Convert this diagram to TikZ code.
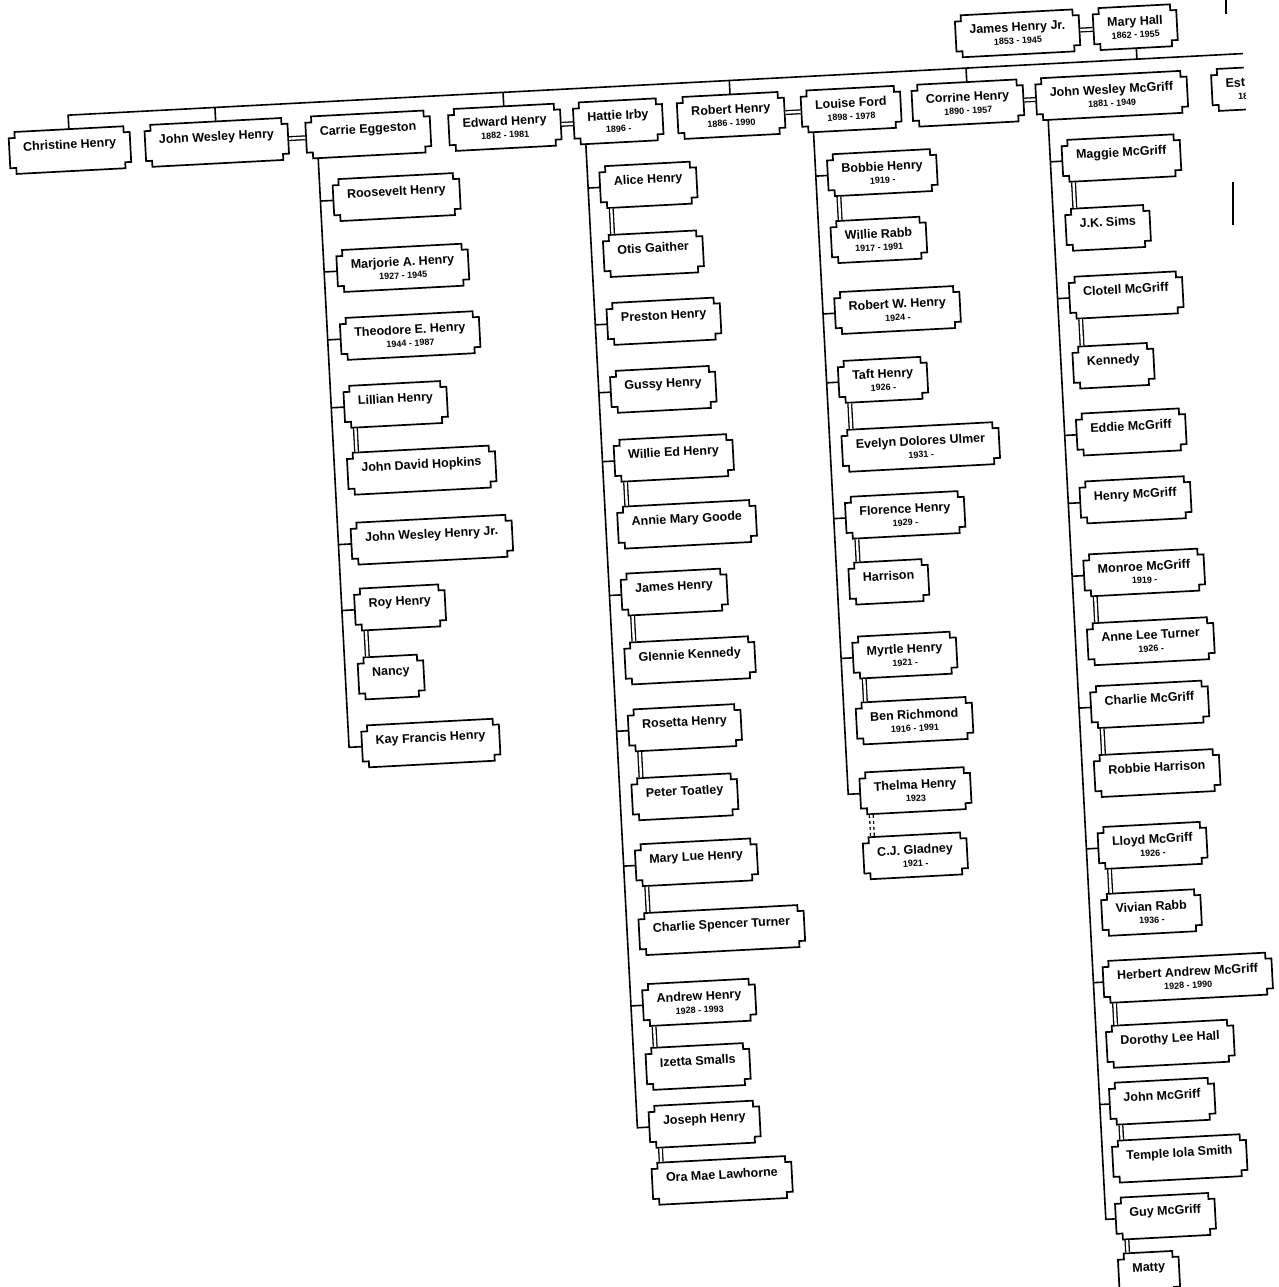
\documentclass[tikz,border=0pt]{standalone}
\usepackage{fontspec}
\setmainfont{Liberation Sans}
\usetikzlibrary{calc}

\makeatletter
\newdimen\nbl \newdimen\nbll \newdimen\nbrr \newdimen\nbr
\newdimen\nbb \newdimen\nbbb \newdimen\nbtt \newdimen\nbt
% rectangle with a small square notch cut into each corner
\pgfdeclareshape{notchbox}{%
  \inheritsavedanchors[from=rectangle]%
  \inheritanchorborder[from=rectangle]%
  \inheritanchor[from=rectangle]{center}%
  \inheritanchor[from=rectangle]{north}%
  \inheritanchor[from=rectangle]{south}%
  \inheritanchor[from=rectangle]{east}%
  \inheritanchor[from=rectangle]{west}%
  \inheritanchor[from=rectangle]{north east}%
  \inheritanchor[from=rectangle]{north west}%
  \inheritanchor[from=rectangle]{south east}%
  \inheritanchor[from=rectangle]{south west}%
  \backgroundpath{%
    \southwest \nbl=\pgf@x \nbb=\pgf@y
    \northeast \nbr=\pgf@x \nbt=\pgf@y
    \nbll=\nbl \advance\nbll by 6pt
    \nbrr=\nbr \advance\nbrr by -6pt
    \nbbb=\nbb \advance\nbbb by 6pt
    \nbtt=\nbt \advance\nbtt by -6pt
    \pgfpathmoveto{\pgfqpoint{\nbl}{\nbtt}}%
    \pgfpathlineto{\pgfqpoint{\nbll}{\nbtt}}%
    \pgfpathlineto{\pgfqpoint{\nbll}{\nbt}}%
    \pgfpathlineto{\pgfqpoint{\nbrr}{\nbt}}%
    \pgfpathlineto{\pgfqpoint{\nbrr}{\nbtt}}%
    \pgfpathlineto{\pgfqpoint{\nbr}{\nbtt}}%
    \pgfpathlineto{\pgfqpoint{\nbr}{\nbbb}}%
    \pgfpathlineto{\pgfqpoint{\nbrr}{\nbbb}}%
    \pgfpathlineto{\pgfqpoint{\nbrr}{\nbb}}%
    \pgfpathlineto{\pgfqpoint{\nbll}{\nbb}}%
    \pgfpathlineto{\pgfqpoint{\nbll}{\nbbb}}%
    \pgfpathlineto{\pgfqpoint{\nbl}{\nbbb}}%
    \pgfpathclose
  }%
}
\makeatother

\newcommand{\lifespan}[1]{\\{\fontsize{9}{9}\selectfont #1}}

\tikzset{
  card/.style={notchbox, draw, line width=1.7pt, outer sep=0pt, anchor=west,
    inner xsep=14pt, minimum height=42pt, align=center,
    font=\fontsize{12.5}{12.5}\selectfont\bfseries},
  person/.style={card, text depth=12pt},
  dated/.style={card},
  link/.style={line width=1.6pt},
  wed/.style={double, double distance=2.4pt, line width=1.3pt, shorten <=0.8pt, shorten >=0.8pt}
}

\begin{document}
\begin{tikzpicture}[x=1pt, y=-1pt]
\path[fill=white, use as bounding box] (0,0) rectangle (1278,1287);
\begin{scope}[transform canvas={rotate around={3:(639,643)}}]
\clip (-60,-60) rectangle (1273,1400);

% first generation
\node[dated] (jhj) at (987,54) {James Henry Jr.\lifespan{1853 - 1945}};
\node[dated] (mh) at (1125,54) {Mary Hall\lifespan{1862 - 1955}};

% their children
\node[person] (chr) at (36,121) {Christine Henry};
\node[person] (jwh) at (172,121) {John Wesley Henry};
\node[person] (ce) at (333,121) {Carrie Eggeston};
\node[dated] (edh) at (476,121) {Edward Henry\lifespan{1882 - 1981}};
\node[dated] (hi) at (601,121) {Hattie Irby\lifespan{1896 -}};
\node[dated] (rh) at (705,121) {Robert Henry\lifespan{1886 - 1990}};
\node[dated] (lf) at (829,121) {Louise Ford\lifespan{1898 - 1978}};
\node[dated] (cor) at (940,121) {Corrine Henry\lifespan{1890 - 1957}};
\node[dated] (jwm) at (1064,121) {John Wesley McGriff\lifespan{1881 - 1949}};
\node[dated, text width=90pt, align=left] (est) at (1240,121) {Est\lifespan{\hspace*{12pt}18}};

% John Wesley Henry and Carrie Eggeston
\node[person] (rvh) at (357,185) {Roosevelt Henry};
\node[dated] (mah) at (357,256) {Marjorie A. Henry\lifespan{1927 - 1945}};
\node[dated] (teh) at (357,324) {Theodore E. Henry\lifespan{1944 - 1987}};
\node[person] (lih) at (357,392) {Lillian Henry};
\node[person] (jdh) at (357,459) {John David Hopkins};
\node[person] (jwj) at (357,529) {John Wesley Henry Jr.};
\node[person] (roh) at (357,595) {Roy Henry};
\node[person] (nan) at (357,664) {Nancy};
\node[person] (kfh) at (357,732) {Kay Francis Henry};

% Edward Henry and Hattie Irby
\node[person] (alh) at (624,186) {Alice Henry};
\node[person] (otg) at (624,255) {Otis Gaither};
\node[person] (prh) at (624,323) {Preston Henry};
\node[person] (guh) at (624,391) {Gussy Henry};
\node[person] (weh) at (624,460) {Willie Ed Henry};
\node[person] (amg) at (624,527) {Annie Mary Goode};
\node[person] (jah) at (624,594) {James Henry};
\node[person] (glk) at (624,663) {Glennie Kennedy};
\node[person] (rsh) at (624,730) {Rosetta Henry};
\node[person] (pet) at (624,799) {Peter Toatley};
\node[person] (mlh) at (624,865) {Mary Lue Henry};
\node[person] (cst) at (624,934) {Charlie Spencer Turner};
\node[dated] (anh) at (624,1005) {Andrew Henry\lifespan{1928 - 1993}};
\node[person] (izs) at (624,1069) {Izetta Smalls};
\node[person] (joh) at (624,1127) {Joseph Henry};
\node[person] (oml) at (624,1184) {Ora Mae Lawhorne};

% Robert Henry and Louise Ford
\node[dated] (boh) at (852,186) {Bobbie Henry\lifespan{1919 -}};
\node[dated] (wir) at (852,253) {Willie Rabb\lifespan{1917 - 1991}};
\node[dated] (rwh) at (852,324) {Robert W. Henry\lifespan{1924 -}};
\node[dated] (tah) at (852,393) {Taft Henry\lifespan{1926 -}};
\node[dated] (edu) at (852,462) {Evelyn Dolores Ulmer\lifespan{1931 -}};
\node[dated] (flh) at (852,529) {Florence Henry\lifespan{1929 -}};
\node[person] (har) at (852,595) {Harrison};
\node[dated] (myh) at (852,669) {Myrtle Henry\lifespan{1921 -}};
\node[dated] (ber) at (852,735) {Ben Richmond\lifespan{1916 - 1991}};
\node[dated] (thh) at (852,805) {Thelma Henry\lifespan{1923}};
\node[dated] (cjg) at (852,870) {C.J. Gladney\lifespan{1921 -}};

% Corrine Henry and John Wesley McGriff
\node[person] (mam) at (1087,184) {Maggie McGriff};
\node[person] (jks) at (1087,253) {J.K. Sims};
\node[person] (clm) at (1087,321) {Clotell McGriff};
\node[person] (ken) at (1087,391) {Kennedy};
\node[person] (edm) at (1087,458) {Eddie McGriff};
\node[person] (hem) at (1087,526) {Henry McGriff};
\node[dated] (mom) at (1087,599) {Monroe McGriff\lifespan{1919 -}};
\node[dated] (alt) at (1087,668) {Anne Lee Turner\lifespan{1926 -}};
\node[person] (chm) at (1087,731) {Charlie McGriff};
\node[person] (rob) at (1087,800) {Robbie Harrison};
\node[dated] (llm) at (1087,872) {Lloyd McGriff\lifespan{1926 -}};
\node[dated] (vir) at (1087,939) {Vivian Rabb\lifespan{1936 -}};
\node[dated] (ham) at (1085,1006) {Herbert Andrew McGriff\lifespan{1928 - 1990}};
\node[person] (dlh) at (1085,1071) {Dorothy Lee Hall};
\node[person] (jom) at (1085,1128) {John McGriff};
\node[person] (tis) at (1085,1186) {Temple Iola Smith};
\node[person] (gum) at (1085,1243) {Guy McGriff};
\node[person] (mat) at (1085,1299) {Matty};

% bar down to the children
\coordinate (barR) at (1290,86);
\draw[link] (chr.north) |- (barR);
\draw[link] (mh.south) -- (mh.south |- barR);
\foreach \n in {jwh,edh,rh,cor} \draw[link] (\n.north) -- (\n.north |- barR);

% couples side by side
\foreach \a/\b in {jhj/mh,jwh/ce,edh/hi,rh/lf,cor/jwm} \draw[wed] (\a.east) -- (\b.west);

% family lines
\coordinate (ceT) at ($(ce.south west)+(11,0)$);
\coordinate (hiT) at ($(hi.south west)+(11,0)$);
\coordinate (lfT) at ($(lf.south west)+(11,0)$);
\coordinate (jwmT) at ($(jwm.south west)+(11,0)$);
\foreach \k in {rvh,mah,teh,lih,jwj,roh} \draw[link] (\k.west) -- (\k.west -| ceT);
\draw[link] (ceT) |- (kfh.west);
\foreach \k in {alh,prh,guh,weh,jah,rsh,mlh,anh} \draw[link] (\k.west) -- (\k.west -| hiT);
\draw[link] (hiT) |- (joh.west);
\foreach \k in {boh,rwh,tah,flh,myh} \draw[link] (\k.west) -- (\k.west -| lfT);
\draw[link] (lfT) |- (thh.west);
\foreach \k in {mam,clm,edm,hem,mom,chm,llm,ham,jom} \draw[link] (\k.west) -- (\k.west -| jwmT);
\draw[link] (jwmT) |- (gum.west);

% spouses below
\foreach \a/\b in {lih/jdh,roh/nan,alh/otg,weh/amg,jah/glk,rsh/pet,mlh/cst,anh/izs,joh/oml,
  boh/wir,tah/edu,flh/har,myh/ber,mam/jks,clm/ken,mom/alt,chm/rob,llm/vir,ham/dlh,jom/tis,gum/mat}
  \draw[wed] ($(\a.south west)+(10,0)$) -- ($(\b.north west)+(10,0)$);
\draw[wed, dashed] ($(thh.south west)+(10,0)$) -- ($(cjg.north west)+(10,0)$);
\end{scope}

% marks at the edge of the page
\draw[link] (1226,0) -- (1226,14);
\draw[link] (1233,182) -- (1233,225);
\end{tikzpicture}
\end{document}
